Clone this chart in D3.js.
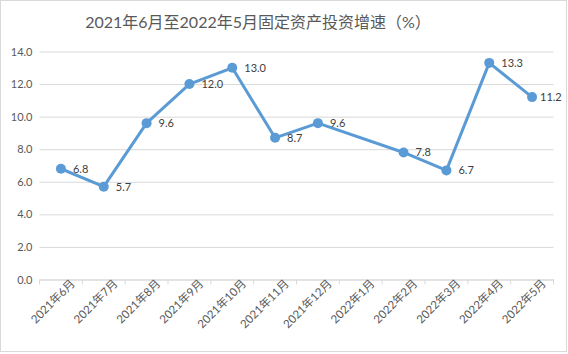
<!DOCTYPE html>
<html>
<head>
<meta charset="utf-8">
<script src="https://cdn.jsdelivr.net/npm/d3@7"></script>
<style>
  body { margin: 0; background: #fff; }
  svg { display: block; font-family: "Lato", "Noto Sans CJK SC", sans-serif; }
</style>
</head>
<body>
<div id="chart"></div>
<script>
const months = ["2021年6月", "2021年7月", "2021年8月", "2021年9月", "2021年10月", "2021年11月",
  "2021年12月", "2022年1月", "2022年2月", "2022年3月", "2022年4月", "2022年5月"]
const growth = [6.8, 5.7, 9.6, 12.0, 13.0, 8.7, 9.6, null, 7.8, 6.7, 13.3, 11.2]
const yTicks = [0, 2, 4, 6, 8, 10, 12, 14]
const title = "2021年6月至2022年5月固定资产投资增速（%）"

function drawChart() {
  const dataset = months.map((m, i) => ({ month: m, value: growth[i] }))
  const points = dataset.filter(d => d.value != null)
  const xAccessor = d => d.month
  const yAccessor = d => d.value

  // dimensions
  let dimensions = {
    width: 568,
    height: 354,
    margin: { top: 51.5, right: 14.5, bottom: 74.5, left: 39.5 },
  }
  dimensions.boundedWidth = dimensions.width - dimensions.margin.left - dimensions.margin.right
  dimensions.boundedHeight = dimensions.height - dimensions.margin.top - dimensions.margin.bottom

  const wrapper = d3.select("#chart")
    .append("svg")
      .attr("width", dimensions.width)
      .attr("height", dimensions.height)

  // outer border
  wrapper.append("rect")
    .attr("x", 0.5).attr("y", 0.5)
    .attr("width", dimensions.width - 2)
    .attr("height", dimensions.height - 3)
    .attr("fill", "#fff")
    .attr("stroke", "#d9d9d9")

  wrapper.append("text")
    .attr("x", 258)
    .attr("y", 28)
    .attr("text-anchor", "middle")
    .attr("fill", "#595959")
    .style("font-size", "16px")
    .text(title)

  const bounds = wrapper.append("g")
    .attr("transform", `translate(${dimensions.margin.left},${dimensions.margin.top})`)

  // scales
  const xScale = d3.scaleBand()
    .domain(months)
    .range([0, dimensions.boundedWidth])

  const yScale = d3.scaleLinear()
    .domain([0, 14])
    .range([dimensions.boundedHeight, 0])

  // gridlines
  const yAxisGenerator = d3.axisLeft(yScale)
    .tickValues(yTicks)
    .tickSize(-dimensions.boundedWidth)
    .tickPadding(7)
    .tickFormat(d3.format(".1f"))

  const yAxis = bounds.append("g").call(yAxisGenerator)
  yAxis.select(".domain").remove()
  yAxis.selectAll("line").attr("stroke", "#d9d9d9")
  yAxis.selectAll("text")
    .attr("fill", "#595959")
    .style("font-size", "11px")
    .style("font-family", "Lato, 'Noto Sans CJK SC', sans-serif")

  // x axis with ticks between bands
  const xAxisGenerator = d3.axisBottom(xScale)
    .tickSize(0)
    .tickPadding(8)

  const xAxis = bounds.append("g")
    .attr("transform", `translate(0,${dimensions.boundedHeight})`)
    .call(xAxisGenerator)
  xAxis.select(".domain").attr("stroke", "#d9d9d9")
  xAxis.selectAll("text")
    .attr("fill", "#595959")
    .style("font-size", "11.5px")
    .style("font-family", "Lato, 'Noto Sans CJK SC', sans-serif")
    .attr("text-anchor", "end")
    .attr("dx", "0.6em")
    .attr("dy", "0.5em")
    .attr("transform", "rotate(-45)")

  const edges = months.map(m => xScale(m)).concat([dimensions.boundedWidth])
  bounds.append("g")
    .selectAll("line")
    .data(edges)
    .join("line")
      .attr("x1", d => d).attr("x2", d => d)
      .attr("y1", dimensions.boundedHeight)
      .attr("y2", dimensions.boundedHeight + 5)
      .attr("stroke", "#d9d9d9")

  // line + markers
  const cx = d => xScale(xAccessor(d)) + xScale.bandwidth() / 2
  const lineGenerator = d3.line()
    .x(cx)
    .y(d => yScale(yAccessor(d)))

  bounds.append("path")
    .datum(points)
    .attr("d", lineGenerator)
    .attr("fill", "none")
    .attr("stroke", "#5b9bd5")
    .attr("stroke-width", 3)
    .attr("stroke-linejoin", "round")

  bounds.selectAll(".dot")
    .data(points)
    .join("circle")
      .attr("class", "dot")
      .attr("cx", cx)
      .attr("cy", d => yScale(yAccessor(d)))
      .attr("r", 5)
      .attr("fill", "#5b9bd5")

  // labels sit to the right, pulled in if they would run past the frame
  const labelMaxX = dimensions.width - dimensions.margin.left - 28
  bounds.selectAll(".label")
    .data(points)
    .join("text")
      .attr("class", "label")
      .attr("x", d => Math.min(cx(d) + 12, labelMaxX))
      .attr("y", d => yScale(yAccessor(d)))
      .attr("dy", "0.35em")
      .attr("fill", "#404040")
      .style("font-size", "11px")
      .text(d => d3.format(".1f")(yAccessor(d)))
}
drawChart()
</script>
</body>
</html>
